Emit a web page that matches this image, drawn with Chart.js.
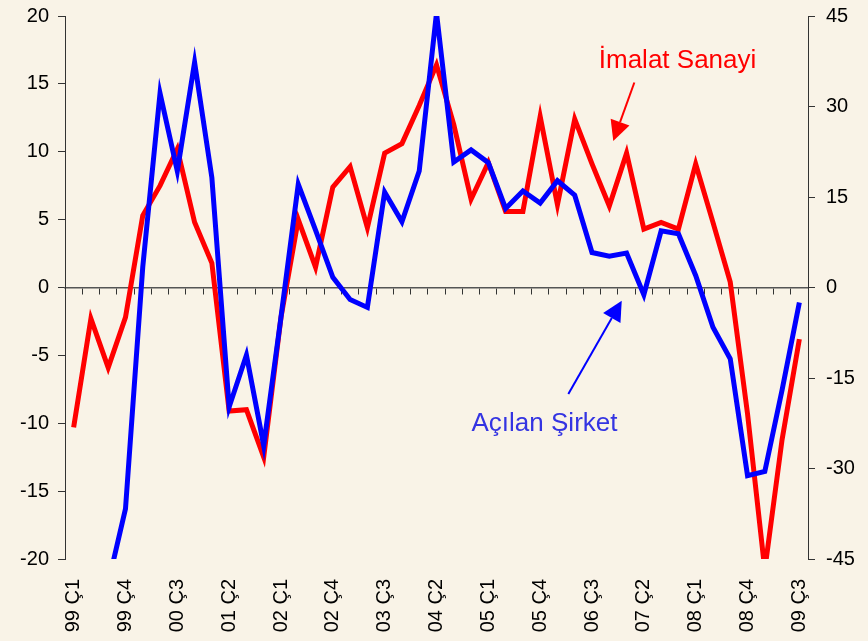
<!DOCTYPE html>
<html>
<head>
<meta charset="utf-8">
<script src="https://cdn.jsdelivr.net/npm/chart.js@4/dist/chart.umd.min.js"></script>
<style>
    body { margin: 0; background: #f9f3e7; }
    canvas { display: block; }
</style>
</head>
<body>
<canvas id="chart" width="868" height="641"></canvas>
<script>
// Quarterly labels, 1999 Q1 - 2009 Q3
const quarters = [
    '99 Ç1', '99 Ç2', '99 Ç3', '99 Ç4',
    '00 Ç1', '00 Ç2', '00 Ç3', '00 Ç4',
    '01 Ç1', '01 Ç2', '01 Ç3', '01 Ç4',
    '02 Ç1', '02 Ç2', '02 Ç3', '02 Ç4',
    '03 Ç1', '03 Ç2', '03 Ç3', '03 Ç4',
    '04 Ç1', '04 Ç2', '04 Ç3', '04 Ç4',
    '05 Ç1', '05 Ç2', '05 Ç3', '05 Ç4',
    '06 Ç1', '06 Ç2', '06 Ç3', '06 Ç4',
    '07 Ç1', '07 Ç2', '07 Ç3', '07 Ç4',
    '08 Ç1', '08 Ç2', '08 Ç3', '08 Ç4',
    '09 Ç1', '09 Ç2', '09 Ç3'
];

// İmalat Sanayi (left axis)
const imalatSanayi = [
    -10.3, -2.3, -5.9, -2.2,
    5.3, 7.5, 10.2, 4.8,
    1.8, -9.1, -9.0, -12.5,
    -2.2, 5.0, 1.5, 7.4,
    8.9, 4.4, 9.9, 10.6,
    13.4, 16.4, 12.0, 6.5,
    9.2, 5.6, 5.6, 12.6,
    6.1, 12.4, 9.1, 6.0,
    9.9, 4.3, 4.8, 4.3,
    9.1, 4.8, 0.4, -9.3,
    -20.8, -11.2, -3.8
];

// Açılan Şirket (right axis)
const acilanSirket = [
    null, null, -49, -36.7,
    3.4, 32.2, 19.3, 37.3,
    18.2, -19.8, -11.2, -26.2,
    -4.9, 17.1, 9.5, 1.7,
    -2.0, -3.3, 15.8, 10.9,
    19.3, 45.5, 20.8, 22.8,
    20.7, 13.1, 16.0, 14.0,
    17.7, 15.3, 5.8, 5.2,
    5.7, -1.2, 9.4, 8.9,
    2.0, -6.6, -11.8, -31.2,
    -30.5, -17.0, -2.5
];

const leftTicks = [-20, -15, -10, -5, 0, 5, 10, 15, 20];
const rightTicks = [-45, -30, -15, 0, 15, 30, 45];

const FONT = "'Liberation Sans', Arial, sans-serif";
const INK = '#333333';

// Callouts in scale units (category index, left-axis value)
const callouts = [
    { text: 'İmalat Sanayi', color: '#ff0000', line: '#ff0000', tx: 34.95, ty: 16.2, from: [32.45, 15.1], to: [31.23, 10.8] },
    { text: 'Açılan Şirket', color: '#3434e2', line: '#0000ff', tx: 27.25, ty: -10.6, from: [28.63, -7.84], to: [31.72, -0.97] }
];

const calloutPlugin = {
    id: 'callouts',
    afterDraw(chart) {
        const ctx = chart.ctx;
        const xs = chart.scales.x;
        const ys = chart.scales.y;
        ctx.save();
        callouts.forEach(c => {
            ctx.font = '26px ' + FONT;
            ctx.fillStyle = c.color;
            ctx.textAlign = 'center';
            ctx.textBaseline = 'alphabetic';
            ctx.fillText(c.text, xs.getPixelForValue(c.tx), ys.getPixelForValue(c.ty));

            const x1 = xs.getPixelForValue(c.from[0]), y1 = ys.getPixelForValue(c.from[1]);
            const x2 = xs.getPixelForValue(c.to[0]), y2 = ys.getPixelForValue(c.to[1]);
            const ang = Math.atan2(y2 - y1, x2 - x1);
            const headLen = 20, headHalf = 10;
            const bx = x2 - headLen * Math.cos(ang), by = y2 - headLen * Math.sin(ang);

            ctx.strokeStyle = c.line;
            ctx.lineWidth = 2;
            ctx.beginPath();
            ctx.moveTo(x1, y1);
            ctx.lineTo(bx, by);
            ctx.stroke();

            ctx.fillStyle = c.line;
            ctx.beginPath();
            ctx.moveTo(x2, y2);
            ctx.lineTo(bx + headHalf * Math.sin(ang), by - headHalf * Math.cos(ang));
            ctx.lineTo(bx - headHalf * Math.sin(ang), by + headHalf * Math.cos(ang));
            ctx.closePath();
            ctx.fill();
        });
        ctx.restore();
    }
};

// fixed axis widths, and no extra label padding pushing the plot down
const fitY = (w) => (s) => {
    s.width = w;
    s.paddingTop = 0;
    s.paddingBottom = 0;
};

new Chart(document.getElementById('chart'), {
    type: 'line',
    data: {
        labels: quarters,
        datasets: [
            {
                label: 'Açılan Şirket',
                data: acilanSirket,
                yAxisID: 'y1',
                borderColor: '#0000ff',
                borderWidth: 5,
                pointRadius: 0,
                tension: 0,
                borderJoinStyle: 'miter'
            },
            {
                label: 'İmalat Sanayi',
                data: imalatSanayi,
                yAxisID: 'y',
                borderColor: '#ff0000',
                borderWidth: 5,
                pointRadius: 0,
                tension: 0,
                borderJoinStyle: 'miter'
            }
        ]
    },
    options: {
        responsive: false,
        animation: false,
        layout: { padding: { top: 16, left: 0, right: 0, bottom: 0 } },
        plugins: {
            legend: { display: false },
            tooltip: { enabled: false }
        },
        scales: {
            x: {
                type: 'category',
                position: 'bottom',
                offset: true,
                grid: { display: false, offset: true },
                border: { display: false },
                ticks: {
                    autoSkip: false,
                    minRotation: 90,
                    maxRotation: 90,
                    padding: 12,
                    color: '#000',
                    font: { family: FONT, size: 20 },
                    callback: (v, i) => (i % 3 === 0 ? quarters[i] : '')
                },
                afterFit: (s) => { s.height = 82; }
            },
            xZero: {
                type: 'category',
                axis: 'x',
                position: { y: 0 },
                offset: true,
                grid: {
                    drawOnChartArea: false,
                    drawTicks: true,
                    tickLength: 6,
                    offset: true,
                    color: INK
                },
                border: { color: '#555555', width: 1.5 },
                ticks: { display: false }
            },
            y: {
                position: 'left',
                min: -20,
                max: 20,
                afterBuildTicks: (s) => { s.ticks = leftTicks.map(v => ({ value: v })); },
                grid: { drawOnChartArea: false, tickLength: 7, color: INK },
                border: { color: INK, width: 1 },
                ticks: {
                    padding: 9,
                    color: '#000',
                    font: { family: FONT, size: 20 }
                },
                afterFit: fitY(65)
            },
            y1: {
                position: 'right',
                min: -45,
                max: 45,
                afterBuildTicks: (s) => { s.ticks = rightTicks.map(v => ({ value: v })); },
                grid: { drawOnChartArea: false, tickLength: 7, color: INK },
                border: { color: INK, width: 1 },
                ticks: {
                    padding: 11,
                    color: '#000',
                    font: { family: FONT, size: 20 }
                },
                afterFit: fitY(60)
            }
        }
    },
    plugins: [calloutPlugin]
});
</script>
</body>
</html>
